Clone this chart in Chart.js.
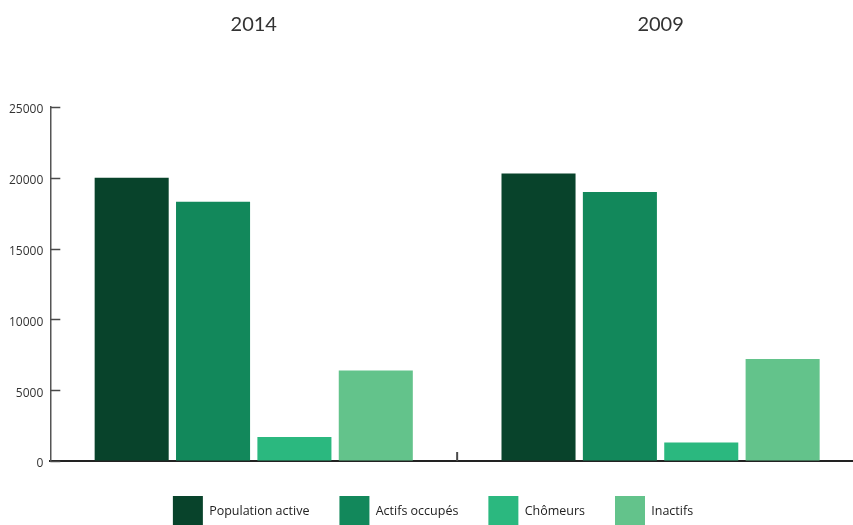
<!DOCTYPE html>
<html>
<head>
<meta charset="utf-8">
<script src="https://cdn.jsdelivr.net/npm/chart.js@4"></script>
<style>
  html, body { margin: 0; padding: 0; background: #fff; overflow: hidden; }
  #wrap { position: relative; width: 866px; height: 525px; }
</style>
</head>
<body>
<div id="wrap"><canvas id="chart"></canvas></div>
<script>
  // data
  const years = ["2014", "2009"];
  const populationActive = [20000, 20300];
  const actifsOccupes = [18300, 19000];
  const chomeurs = [1700, 1300];
  const inactifs = [6400, 7200];
  const yTicks = [0, 5000, 10000, 15000, 20000, 25000];

  // short tick marks drawn inside the plot, like the original
  const innerTicks = {
    id: "innerTicks",
    afterDraw(chart) {
      const ctx = chart.ctx;
      const y = chart.scales.y;
      const x = chart.scales.x;
      ctx.save();
      ctx.strokeStyle = "#4a4a4a";
      ctx.lineWidth = 1.5;
      yTicks.forEach(function (v) {
        const py = Math.round(y.getPixelForValue(v)) + 0.5;
        ctx.beginPath();
        ctx.moveTo(x.left, py);
        ctx.lineTo(x.left + 10, py);
        ctx.stroke();
      });
      // separator between the two years
      const mid = (x.getPixelForValue(0) + x.getPixelForValue(1)) / 2;
      ctx.lineWidth = 2;
      ctx.beginPath();
      ctx.moveTo(mid, y.bottom);
      ctx.lineTo(mid, y.bottom - 9);
      ctx.stroke();
      ctx.restore();
    }
  };

  const ctx = document.getElementById("chart").getContext("2d");
  new Chart(ctx, {
    type: "bar",
    data: {
      labels: years,
      datasets: [
        { label: "Population active", data: populationActive, backgroundColor: "#08432b" },
        { label: "Actifs occupés", data: actifsOccupes, backgroundColor: "#12885b" },
        { label: "Chômeurs", data: chomeurs, backgroundColor: "#2bb87f" },
        { label: "Inactifs", data: inactifs, backgroundColor: "#63c38b" }
      ]
    },
    options: {
      responsive: true,
      maintainAspectRatio: false,
      animation: false,
      categoryPercentage: 0.8,
      barPercentage: 0.91,
      layout: { padding: { left: 2, right: 2, top: 0, bottom: -11 } },
      scales: {
        x: {
          position: "bottom",
          grid: { drawOnChartArea: false, drawTicks: false },
          border: { display: true, color: "#222", width: 2 },
          ticks: { display: false },
          afterFit(scale) { scale.height = 5; }
        },
        x2: {
          type: "category",
          position: "top",
          offset: true,
          labels: years,
          grid: { display: false },
          border: { display: false },
          ticks: {
            color: "#333",
            padding: 62,
            font: { family: "Lato", size: 20 }
          },
          afterFit(scale) { scale.height = 107; }
        },
        y: {
          min: 0,
          max: 25000,
          afterBuildTicks(scale) {
            scale.ticks = yTicks.map(function (v) { return { value: v }; });
          },
          grid: { drawOnChartArea: false, drawTicks: false },
          border: { display: true, color: "#555", width: 1.5 },
          ticks: {
            color: "#333",
            padding: 7,
            labelOffset: 3,
            font: { family: "Open Sans", size: 12 },
            callback: function (v) { return String(v); }
          }
        }
      },
      plugins: {
        legend: {
          position: "bottom",
          labels: {
            boxWidth: 30,
            boxHeight: 30,
            padding: 30,
            color: "#222",
            font: { family: "Open Sans", size: 12.5 }
          }
        },
        tooltip: { enabled: false }
      }
    },
    plugins: [innerTicks]
  });
</script>
</body>
</html>
